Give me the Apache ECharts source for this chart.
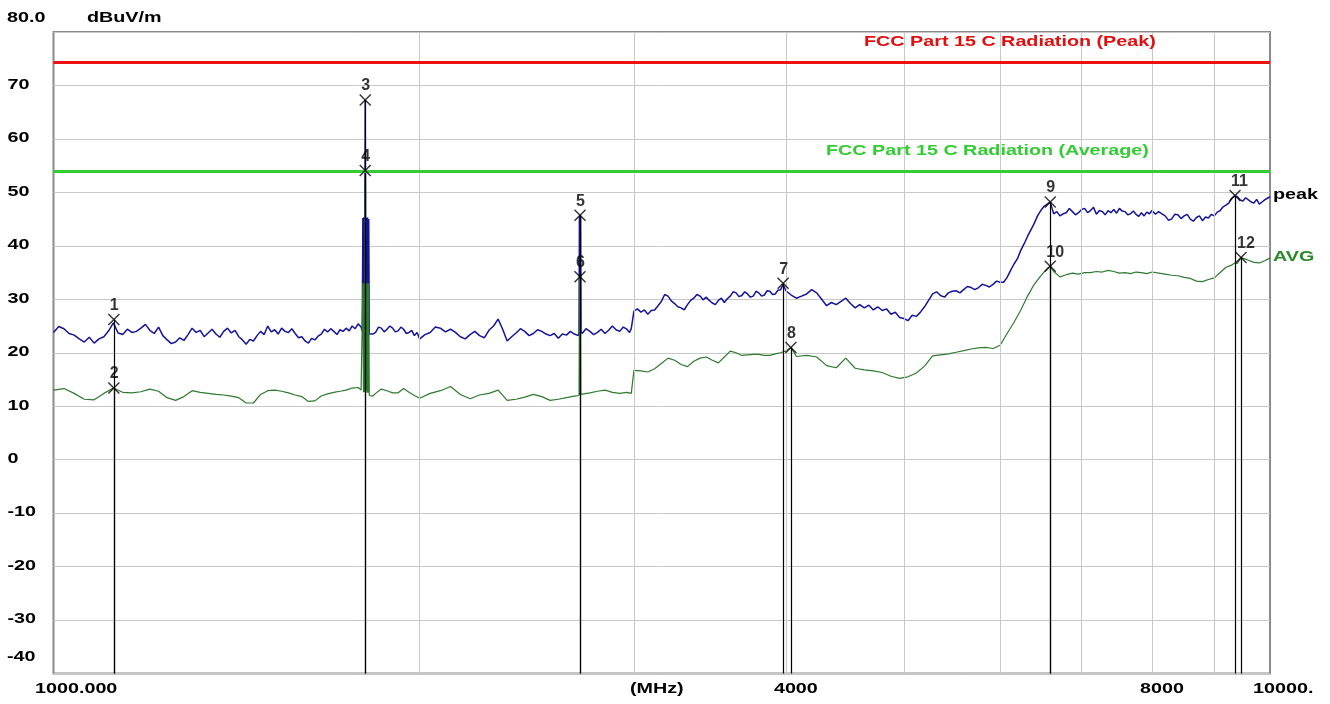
<!DOCTYPE html>
<html><head><meta charset="utf-8">
<script src="https://cdn.jsdelivr.net/npm/echarts@6/dist/echarts.min.js"></script>
<style>html,body{margin:0;padding:0;background:#fff}#c{width:1330px;height:704px}</style>
</head><body><div id="c"></div>
<script>
// ---------- data ----------
const yUnit = 'dBuV/m';
const yTickValues = [70, 60, 50, 40, 30, 20, 10, 0, -10, -20, -30];
const yTopLabel = '80.0';
const yBottomLabel = '-40';
const xGridFreq = [2000, 3000, 4000, 5000, 6000, 7000, 8000, 9000];
const xLabelText = ['1000.000', '(MHz)', '4000', '8000', '10000.'];
const xLabelFreq = [1000, 3000, 4000, 8000, 10000];
const traceNames = ['peak', 'AVG'];
const limitNames = ['FCC Part 15 C Radiation (Peak)', 'FCC Part 15 C Radiation (Average)'];
const limitLevels = [74.4, 54.0];
const markerNames = ['1','2','3','4','5','6','7','8','9','10','11','12'];
const markerFreq  = [1121, 1121, 1804, 1804, 2709, 2709, 3979, 4038, 6597, 6597, 9359, 9467];
const markerLevel = [26.2, 13.4, 67.3, 54.1, 45.7, 34.2, 33.0, 21.0, 48.2, 36.2, 49.4, 37.8];

const peakTrace = [
[1000,23.8],[1010,24.9],[1020,24.5],[1030,23.6],[1040,23.3],[1050,22.6],[1060,22.0],[1070,22.9],[1080,21.8],[1090,22.6],[1100,23.0],[1110,24.1],[1120,25.6],[1130,23.7],[1140,23.4],[1150,24.4],[1160,23.8],[1170,24.0],[1180,24.6],[1190,25.3],[1200,24.2],[1210,23.6],[1220,24.8],[1230,23.2],[1240,22.4],[1250,21.7],[1260,22.0],[1270,22.8],[1280,22.3],[1290,23.4],[1300,24.6],[1310,23.8],[1320,24.2],[1330,23.0],[1340,23.7],[1350,24.4],[1360,23.5],[1370,22.9],[1380,24.0],[1390,24.6],[1400,23.7],[1410,24.2],[1420,23.0],[1430,22.4],[1440,21.6],[1450,22.5],[1460,22.2],[1470,23.2],[1480,24.0],[1490,23.4],[1500,25.0],[1510,23.9],[1520,24.3],[1530,23.5],[1540,24.6],[1550,24.0],[1560,23.8],[1570,24.5],[1580,23.6],[1590,22.8],[1600,23.0],[1610,22.2],[1620,21.8],[1630,22.7],[1640,22.4],[1650,23.1],[1660,23.5],[1670,24.4],[1680,23.9],[1690,24.5],[1700,24.0],[1710,23.4],[1720,24.3],[1730,24.0],[1740,24.6],[1750,24.1],[1760,25.0],[1770,24.5],[1780,25.4],[1790,24.8],
[1794,24.0],[1796,45.2],[1798,24.5],[1800,45.4],[1802,24.2],[1804,67.3],[1806,24.8],[1808,45.3],[1810,24.0],[1812,45.3],[1814,24.0],[1816,45.0],[1818,23.5],
[1830,23.5],[1840,23.8],[1850,24.8],[1860,24.6],[1870,23.9],[1880,24.4],[1890,25.0],[1900,24.6],[1910,23.9],[1920,24.1],[1930,24.8],[1940,24.4],[1950,23.6],[1960,23.8],[1970,24.2],[1980,23.2],[1990,23.8],[2000,22.6],
[2020,23.4],[2040,23.8],[2060,24.8],[2080,24.6],[2100,23.9],[2120,24.4],[2140,23.8],[2160,23.0],[2180,22.6],[2200,23.4],[2220,24.0],[2240,23.2],[2260,22.8],[2280,24.2],[2300,25.0],[2320,26.3],[2340,24.4],[2360,22.2],[2380,23.0],[2400,23.7],[2420,24.5],[2440,24.0],[2460,23.2],[2480,23.6],[2500,24.3],[2520,24.0],[2540,23.5],[2560,23.2],[2580,23.6],[2600,22.7],[2620,23.5],[2640,23.3],[2660,24.0],[2680,23.5],[2700,23.2],
[2704,23.8],[2706,45.5],[2707,25.0],[2709,45.7],[2711,24.5],[2712,45.5],[2714,24.0],
[2720,23.6],[2740,24.5],[2760,24.0],[2780,23.4],[2800,23.8],[2820,24.4],[2840,23.6],[2860,24.2],[2880,25.0],[2900,24.3],[2920,24.0],[2940,24.8],[2960,24.4],[2975,23.8],[2985,24.5],[3000,27.8],[3020,28.2],[3040,27.6],[3060,28.0],[3080,27.2],[3100,27.9],[3120,28.0],[3140,28.8],[3160,29.6],[3180,30.9],[3200,30.6],[3220,29.7],[3240,29.2],[3260,28.6],[3280,28.4],[3300,28.0],[3320,29.0],[3340,29.8],[3360,30.2],[3380,30.9],[3400,30.6],[3420,29.9],[3440,30.4],[3460,29.8],[3480,29.3],[3500,29.0],[3520,29.8],[3540,30.2],[3560,29.4],[3580,30.1],[3600,30.6],[3620,31.4],[3640,31.2],[3660,30.5],[3680,30.7],[3700,31.4],[3720,31.0],[3740,30.4],[3760,30.6],[3780,31.5],[3800,31.2],[3820,30.6],[3840,30.8],[3860,31.6],[3880,31.5],[3900,30.9],[3920,31.0],[3940,31.7],[3960,31.8],[3979,32.8],[4000,31.6],
[4040,30.8],[4080,30.2],[4120,30.6],[4160,31.0],[4200,31.8],[4240,31.2],[4280,30.0],[4320,28.8],[4360,29.4],[4400,29.0],[4440,29.6],[4480,30.2],[4520,29.2],[4560,28.4],[4600,29.0],[4640,28.4],[4680,28.9],[4720,28.0],[4760,28.6],[4800,27.9],[4840,28.2],[4880,27.2],[4920,27.6],[4960,26.6],[5000,26.4],[5040,26.0],[5080,27.0],[5120,26.8],[5160,27.6],[5200,28.6],[5240,29.8],[5280,31.0],[5320,31.4],[5360,30.7],[5400,30.4],[5440,31.2],[5480,31.5],[5520,31.6],[5560,31.2],[5600,31.8],[5640,32.4],[5680,32.2],[5720,31.8],[5760,32.2],[5800,32.8],[5840,32.6],[5880,32.3],[5920,32.8],[5960,33.4],[6000,33.2],[6040,33.2],[6080,34.1],[6120,35.4],[6160,36.6],[6200,37.6],[6240,39.2],[6280,40.4],[6320,41.8],[6360,43.0],[6400,44.2],[6440,45.6],[6480,46.6],[6520,47.4],[6560,47.8],[6597,48.2],[6620,47.0],[6640,46.0],[6680,46.4],[6720,45.6],[6760,46.0],[6800,46.2],[6840,47.0],[6880,46.4],[6920,45.8],[6960,46.2],[7000,46.8],[7040,47.0],[7080,46.2],[7120,46.6],[7160,47.2],[7200,45.9],[7240,46.6],[7280,46.4],[7320,45.8],[7360,46.6],[7400,46.2],[7440,46.8],[7480,46.1],[7520,47.0],[7560,46.5],[7600,46.4],[7640,45.8],[7680,46.0],[7720,46.5],[7760,45.9],[7800,45.5],[7840,46.2],[7880,45.6],[7920,46.3],[7960,46.0],[8000,46.6],
[8050,45.9],[8100,46.4],[8150,46.0],[8200,45.6],[8250,44.8],[8300,45.0],[8350,45.9],[8400,45.8],[8450,45.1],[8500,45.6],[8550,45.9],[8600,45.0],[8650,44.6],[8700,45.3],[8750,45.6],[8800,44.7],[8850,45.4],[8900,45.2],[8950,45.9],[9000,45.6],[9050,46.3],[9100,46.6],[9150,47.3],[9200,47.6],[9250,48.0],[9300,48.9],[9359,49.4],[9400,49.2],[9450,48.6],[9500,48.4],[9550,49.0],[9600,48.6],[9650,48.2],[9700,48.0],[9750,48.7],[9800,47.8],[9850,48.2],[9900,48.6],[9950,48.9],[10000,49.2]
];

const avgTrace = [
[1000,13.0],[1020,13.3],[1040,12.4],[1060,11.3],[1080,11.2],[1100,12.4],[1120,13.4],[1140,12.6],[1160,12.5],[1180,12.7],[1200,13.2],[1220,12.8],[1240,11.6],[1260,11.1],[1280,11.8],[1300,12.9],[1320,12.6],[1340,12.4],[1360,12.2],[1380,12.1],[1400,11.9],[1420,11.6],[1440,10.6],[1460,10.6],[1480,12.2],[1500,12.9],[1520,13.0],[1540,12.8],[1560,12.5],[1580,12.1],[1600,11.8],[1620,10.9],[1640,11.0],[1660,11.9],[1680,12.3],[1700,12.6],[1720,12.8],[1740,13.0],[1760,13.4],[1780,13.5],[1790,13.0],
[1794,12.8],[1796,33.0],[1798,12.6],[1800,33.0],[1802,12.6],[1804,54.1],[1806,13.0],[1808,33.0],[1810,12.5],[1812,33.0],[1814,12.5],[1816,33.0],[1818,12.0],
[1830,11.9],[1840,12.4],[1860,13.2],[1880,12.9],[1900,12.5],[1920,12.5],[1940,13.3],[1960,12.6],[1980,12.0],[2000,11.5],
[2040,12.4],[2080,12.9],[2120,13.7],[2160,12.2],[2200,11.4],[2240,12.1],[2280,12.4],[2320,13.0],[2360,11.1],[2400,11.3],[2440,11.7],[2480,12.2],[2520,11.8],[2560,11.1],[2600,11.3],[2640,11.6],[2680,11.9],
[2704,12.0],[2707,34.2],[2709,12.1],[2711,34.0],[2713,12.2],
[2720,12.2],[2760,12.5],[2800,12.8],[2840,13.0],[2880,12.6],[2920,12.4],[2960,12.6],[2985,12.4],[3000,16.7],[3040,16.6],[3080,16.4],[3120,17.0],[3160,18.0],[3200,19.0],[3240,18.6],[3280,17.8],[3320,17.4],[3360,18.4],[3400,19.0],[3440,19.2],[3480,18.6],[3520,18.1],[3560,19.2],[3600,20.3],[3640,20.0],[3680,19.5],[3720,19.6],[3760,19.7],[3800,19.7],[3840,19.5],[3880,19.5],[3920,19.8],[3960,20.0],[3979,20.2],[4000,20.3],[4038,21.0],
[4080,19.3],[4160,19.5],[4240,19.2],[4320,17.6],[4400,17.2],[4480,19.0],[4560,17.1],[4640,16.8],[4720,16.6],[4800,16.3],[4880,15.6],[4960,15.2],[5040,15.5],[5120,16.2],[5200,17.5],[5280,19.4],[5360,19.6],[5440,19.8],[5520,20.1],[5600,20.4],[5680,20.7],[5760,20.9],[5840,21.0],[5920,20.8],[6000,21.4],[6080,23.6],[6160,25.7],[6240,28.0],[6320,30.6],[6400,32.8],[6480,34.4],[6560,35.8],[6597,36.2],[6640,35.2],[6720,34.2],[6800,34.6],[6880,34.9],[6960,34.7],[7040,35.0],[7120,35.0],[7200,35.2],[7280,35.1],[7360,35.4],[7440,35.2],[7520,34.9],[7600,35.0],[7680,34.8],[7760,35.1],[7840,35.0],[7920,34.8],[8000,35.1],
[8100,34.9],[8200,34.7],[8300,34.5],[8400,34.4],[8500,34.1],[8600,33.9],[8700,33.4],[8800,33.3],[8900,33.7],[9000,34.0],[9100,35.0],[9200,36.0],[9300,36.4],[9359,36.8],[9400,36.7],[9467,37.8],[9500,37.5],[9600,37.3],[9700,36.9],[9800,36.8],[9900,37.2],[10000,37.7]
];

// ---------- chart ----------
const FONT = '"Liberation Sans", Arial, sans-serif';
const chart = echarts.init(document.getElementById('c'), null, {renderer: 'canvas'});
const markerLines = markerFreq.map((f, i) => [{coord: [f, -40]}, {coord: [f, markerLevel[i]]}]);
const xPath = 'path://M0,1L1,0L6,5L11,0L12,1L7,6L12,11L11,12L6,7L1,12L0,11L5,6Z';

chart.setOption({
  animation: false,
  backgroundColor: '#ffffff',
  grid: {left: 53.5, right: 60, top: 32, bottom: 30.5, show: true, borderColor: '#8a8a8a', borderWidth: 2, backgroundColor: '#ffffff'},
  xAxis: {type: 'log', logBase: 10, min: 1000, max: 10000,
    axisLabel: {show: false}, axisTick: {show: false}, axisLine: {show: false}, splitLine: {show: false}},
  yAxis: {type: 'value', min: -40, max: 80, interval: 10,
    axisLabel: {show: false}, axisTick: {show: false}, axisLine: {show: false},
    splitLine: {show: true, lineStyle: {color: '#c8c8c8', width: 1}}},
  series: [
    {type: 'line', data: [], z: 1, silent: true,
      markLine: {silent: true, symbol: ['none', 'none'], label: {show: false},
        lineStyle: {color: '#c8c8c8', width: 1, type: 'solid'},
        data: xGridFreq.map(f => ({xAxis: f}))}},
    {type: 'line', data: [], z: 2, silent: true,
      markLine: {silent: true, symbol: ['none', 'none'], label: {show: false},
        lineStyle: {color: '#000000', width: 1.2, type: 'solid'},
        data: markerLines}},
    {name: traceNames[0], type: 'line', data: peakTrace, z: 3, symbol: 'none', silent: true,
      lineStyle: {color: '#14149a', width: 1.5}},
    {name: traceNames[1], type: 'line', data: avgTrace, z: 4, symbol: 'none', silent: true,
      lineStyle: {color: '#2e7a2e', width: 1.2}},
    {type: 'line', data: [], z: 5, silent: true,
      markLine: {silent: true, symbol: ['none', 'none'], label: {show: false},
        data: [
          {yAxis: limitLevels[0], lineStyle: {color: '#ee1111', width: 3, type: 'solid'}},
          {yAxis: limitLevels[1], lineStyle: {color: '#33cc33', width: 3, type: 'solid'}}
        ]}},
    {type: 'scatter', z: 6, silent: true, symbol: xPath, symbolSize: [12, 12],
      itemStyle: {color: '#000000'},
      data: markerFreq.map((f, i) => ({value: [f, markerLevel[i]], name: markerNames[i]})),
      label: {show: true, position: 'top', align: 'left', distance: 0, offset: [-4, 0],
        formatter: p => p.name, color: '#000', fontFamily: FONT, fontSize: 16, fontWeight: 'bold'}}
  ]
});

// ---------- texts ----------
function px(f, v) { return chart.convertToPixel({gridIndex: 0}, [f, v]); }
function txt(s, x, y, color) {
  return {type: 'text', x: x, y: y, scaleX: 1.41, scaleY: 1, silent: true, z: 100,
    style: {text: s, fill: color || '#000', font: 'bold 14px ' + FONT,
      textAlign: 'left', textVerticalAlign: 'middle', align: 'left', verticalAlign: 'middle'}};
}
const g = [];
const top80 = px(1000, 80)[1];
const bot40 = px(1000, -40)[1];
g.push(txt(yTopLabel, 7, top80 - 14));
g.push(txt(yUnit, 87, top80 - 14));
yTickValues.forEach(v => g.push(txt(String(v), 7.5, px(1000, v)[1] - 0.5)));
g.push(txt(yBottomLabel, 7, bot40 - 16));
const xOff = [-18.5, -4, -12, -12, -17];
xLabelFreq.forEach((f, i) => g.push(txt(xLabelText[i], px(f, -40)[0] + xOff[i], bot40 + 16)));
g.push(txt(limitNames[0], 864, px(1000, limitLevels[0])[1] - 20, '#e01010'));
g.push(txt(limitNames[1], 826, px(1000, limitLevels[1])[1] - 20, '#33cc33'));
const lastPeak = peakTrace[peakTrace.length - 1];
const lastAvg = avgTrace[avgTrace.length - 1];
g.push(txt(traceNames[0], 1273, px(lastPeak[0], lastPeak[1])[1] - 1.5, '#000'));
g.push(txt(traceNames[1], 1273, px(lastAvg[0], lastAvg[1])[1] - 1, '#2a8a2a'));
chart.setOption({graphic: g});
</script>
</body></html>
